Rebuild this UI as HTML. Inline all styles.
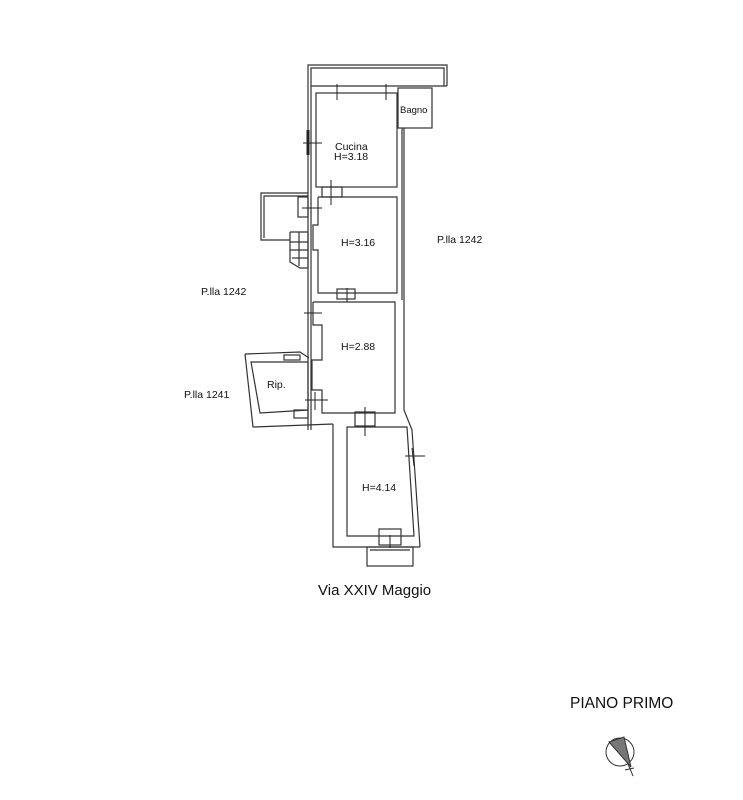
<!DOCTYPE html>
<html><head><style>
body{margin:0;background:#fff;}
svg{display:block;font-family:"Liberation Sans",Arial,sans-serif;}
</style></head><body>
<svg width="743" height="800" viewBox="0 0 743 800" xmlns="http://www.w3.org/2000/svg">
<g fill="none" stroke="#333" stroke-width="1.2">
<polyline points="308,430 308,65 447,65 447,86"/>
<polyline points="311,430 311,68 444,68 444,86"/>
<line x1="311" y1="86" x2="447" y2="86"/>
<rect x="316" y="93" width="81" height="94"/>
<rect x="398" y="88" width="34" height="40"/>
<polyline points="404,128 404,300 404,410 412,430 420,547"/>
<polyline points="402,128 402,300"/>
<polyline points="318,197 397,197 397,293 318,293 318,250 313,250 313,225 318,225 318,197"/>
<rect x="337" y="289" width="18" height="10"/>
<rect x="322" y="187" width="20" height="10"/>
<polyline points="308,193 261,193 261,240 290,240"/>
<polyline points="308,196 264,196 264,238"/>
<rect x="298" y="197" width="10" height="20"/>
<polyline points="290,232 308,232 308,268 300,268 290,262 290,232"/>
<line x1="290" y1="242" x2="308" y2="242"/><line x1="290" y1="250" x2="308" y2="250"/><line x1="292" y1="258" x2="308" y2="258"/>
<line x1="299" y1="232" x2="299" y2="266"/>
<polyline points="313,302 395,302 395,413 322,413 322,390 312,390 312,360 322,360 322,325 313,325 313,302"/>
<rect x="355" y="412" width="20" height="14"/>
<polygon points="251,362 308,362 308,410 260,413"/>
<polyline points="245,354 300,352 309,358"/>
<polyline points="245,354 253,427 333,424"/>
<rect x="294" y="410" width="14" height="8"/>
<rect x="284" y="355" width="16" height="5"/>
<polygon points="347,427 407,427 414,536 347,536"/>
<polyline points="333,424 333,547 420,547"/>
<rect x="379" y="529" width="22" height="16"/>
<rect x="367" y="547" width="46" height="19"/>
<line x1="370" y1="550" x2="410" y2="550"/>
</g>
<g stroke="#222" stroke-width="1">
<line x1="337" y1="84" x2="337" y2="100"/><line x1="386" y1="84" x2="386" y2="100"/>
<line x1="303" y1="143" x2="322" y2="143"/><line x1="308" y1="130" x2="308" y2="155" stroke-width="3"/>
<line x1="331" y1="180" x2="331" y2="205"/>
<line x1="302" y1="208" x2="322" y2="208"/>
<line x1="304" y1="313" x2="322" y2="313"/><line x1="347" y1="288" x2="347" y2="302"/>
<line x1="305" y1="400" x2="328" y2="400"/><line x1="315" y1="392" x2="315" y2="410"/>
<line x1="365" y1="407" x2="365" y2="436"/>
<line x1="405" y1="456" x2="425" y2="456"/><line x1="412" y1="448" x2="414" y2="466"/>
<line x1="390" y1="535" x2="390" y2="548"/>
</g>
<g font-size="10.5" fill="#111">
<text x="335" y="150">Cucina</text><text x="334" y="160">H=3.18</text>
<text x="400" y="113" font-size="9.5">Bagno</text>
<text x="341" y="246">H=3.16</text>
<text x="341" y="350">H=2.88</text>
<text x="267" y="388">Rip.</text>
<text x="362" y="491">H=4.14</text>
<text x="437" y="243">P.lla 1242</text>
<text x="201" y="295">P.lla 1242</text>
<text x="184" y="398">P.lla 1241</text>
</g>
<text x="318" y="595" font-size="15" fill="#111">Via XXIV Maggio</text>
<text x="570" y="708" font-size="15.5" fill="#111">PIANO PRIMO</text>
<g stroke="#333" fill="none">
<circle cx="620" cy="752" r="14"/>
<polygon points="609,742 624,737 631,767" fill="#777"/>
<line x1="628" y1="764" x2="633" y2="776"/><line x1="625" y1="770" x2="634" y2="768"/>
</g>
</svg>
</body></html>
